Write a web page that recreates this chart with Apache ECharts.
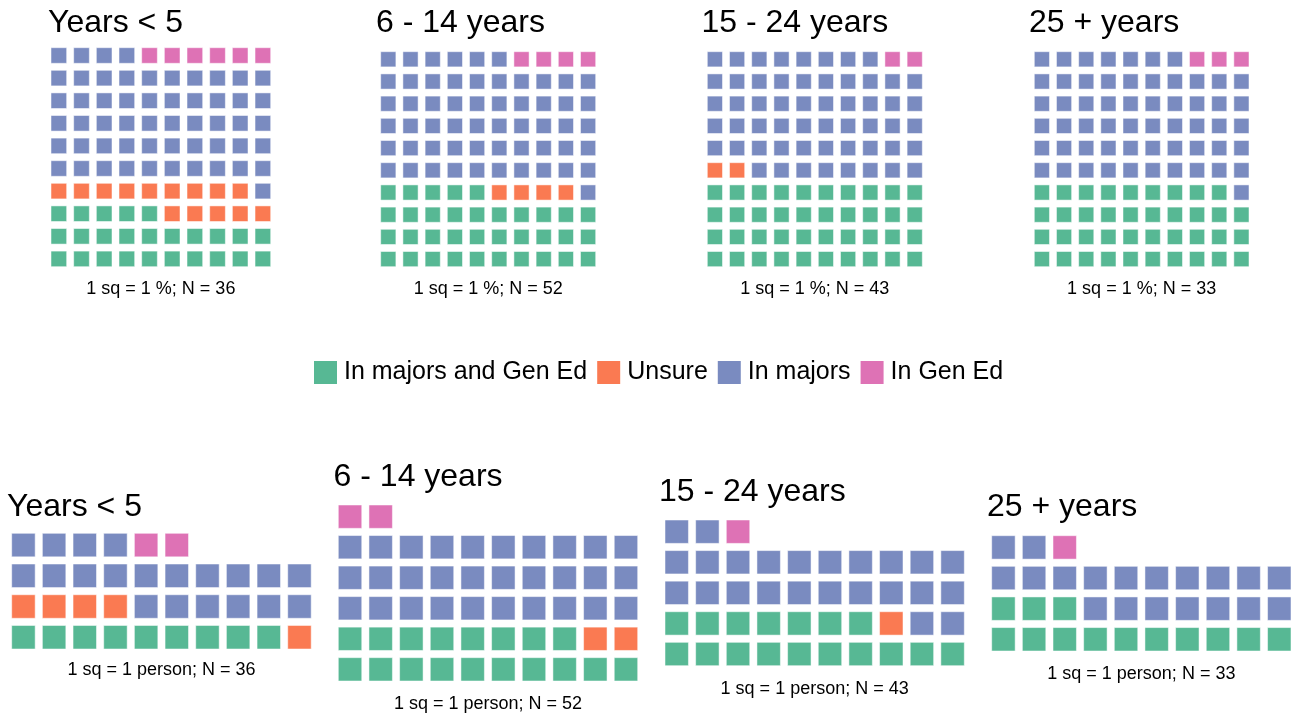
<!DOCTYPE html>
<html>
<head>
<meta charset="UTF-8">
<title>Waffle charts</title>
<script src="https://cdn.jsdelivr.net/npm/echarts@6/dist/echarts.min.js"></script>
<style>
  html, body { margin: 0; padding: 0; background: #fff; }
  #main { width: 1298px; height: 719px; }
</style>
</head>
<body>
<div id="main"></div>
<script>
// categories and colours (legend order)
var categories = ['In majors and Gen Ed', 'Unsure', 'In majors', 'In Gen Ed'];
var catColors = ['#57b894', '#fa7a52', '#7a8bc0', '#de72b5'];

var groups = ['Years < 5', '6 - 14 years', '15 - 24 years', '25 + years'];
var groupN = [36, 52, 43, 33];

// 1 sq = 1 % (squares per category)
var pctYears5 = [25, 14, 55, 6];
var pct6to14 = [35, 4, 57, 4];
var pct15to24 = [40, 2, 56, 2];
var pct25plus = [39, 0, 58, 3];

// 1 sq = 1 person
var nYears5 = [9, 5, 20, 2];
var n6to14 = [18, 2, 30, 2];
var n15to24 = [17, 1, 24, 1];
var n25plus = [13, 0, 19, 1];

var COLS = 10;

// panel boxes: [left, top, width, height], title pos [left, top], caption top
var panels = [
  { counts: pctYears5, unit: '1 sq = 1 %', g: 0, box: [47.5, 44.2, 226.7, 226], tl: [48, 7], cap: 280.5, gap: 7 },
  { counts: pct6to14, unit: '1 sq = 1 %', g: 1, box: [377.2, 48.2, 222, 222], tl: [376, 7], cap: 280.5, gap: 7 },
  { counts: pct15to24, unit: '1 sq = 1 %', g: 2, box: [703.8, 48.2, 222, 222], tl: [701.5, 7], cap: 280.5, gap: 7 },
  { counts: pct25plus, unit: '1 sq = 1 %', g: 3, box: [1030.8, 48.2, 221.7, 222], tl: [1029, 7], cap: 280.5, gap: 7 },
  { counts: nYears5, unit: '1 sq = 1 person', g: 0, box: [8.1, 529.7, 306.7, 122.9], tl: [7, 491.5], cap: 661.5, gap: 7.2 },
  { counts: n6to14, unit: '1 sq = 1 person', g: 1, box: [334.7, 501.4, 306.6, 183.2], tl: [333.6, 461], cap: 695.5, gap: 7.2 },
  { counts: n15to24, unit: '1 sq = 1 person', g: 2, box: [661.4, 516.4, 306.5, 152.9], tl: [659, 476.6], cap: 680.5, gap: 7.2 },
  { counts: n25plus, unit: '1 sq = 1 person', g: 3, box: [988.1, 532.1, 306.5, 122.5], tl: [987, 491.5], cap: 665, gap: 7.2 }
];

var FONT = 'Liberation Sans, Arial, sans-serif';

function makeRender(gap) {
  return function (params, api) {
    var p = api.coord([api.value(0), api.value(1) + 1]);
    var s = api.size([1, 1]);
    return {
      type: 'rect',
      shape: { x: p[0] + gap / 2, y: p[1] + gap / 2, width: s[0] - gap, height: s[1] - gap },
      style: { fill: api.visual('color'), stroke: 'rgba(255,255,255,0.5)', lineWidth: 1 }
    };
  };
}

var grids = [], xAxes = [], yAxes = [], series = [], titles = [];

panels.forEach(function (pn, i) {
  var total = pn.counts.reduce(function (a, b) { return a + b; }, 0);
  var rows = Math.ceil(total / COLS);
  grids.push({ left: pn.box[0], top: pn.box[1], width: pn.box[2], height: pn.box[3] });
  xAxes.push({ gridIndex: i, type: 'value', min: 0, max: COLS, show: false });
  yAxes.push({ gridIndex: i, type: 'value', min: 0, max: rows, show: false });

  // fill squares row by row from the bottom-left
  var k = 0;
  pn.counts.forEach(function (c, ci) {
    var cells = [];
    for (var j = 0; j < c; j++, k++) {
      cells.push([k % COLS, Math.floor(k / COLS)]);
    }
    series.push({
      type: 'custom',
      name: categories[ci],
      xAxisIndex: i,
      yAxisIndex: i,
      itemStyle: { color: catColors[ci] },
      renderItem: makeRender(pn.gap),
      data: cells,
      silent: true
    });
  });

  titles.push({
    text: groups[pn.g], left: pn.tl[0], top: pn.tl[1], padding: 0,
    textStyle: { fontFamily: FONT, fontSize: 32, fontWeight: 'normal', color: '#000' }
  });
  titles.push({
    text: pn.unit + '; N = ' + groupN[pn.g],
    left: pn.box[0] + pn.box[2] / 2, textAlign: 'center', top: pn.cap, padding: 0,
    textStyle: { fontFamily: FONT, fontSize: 18, fontWeight: 'normal', color: '#000' }
  });
});

var myChart = echarts.init(document.getElementById('main'));
myChart.setOption({
  backgroundColor: '#fff',
  animation: false,
  title: titles,
  legend: {
    data: categories,
    left: 309, top: 355,
    icon: 'rect',
    itemWidth: 23, itemHeight: 23, itemGap: 10,
    selectedMode: false,
    textStyle: { fontFamily: FONT, fontSize: 25, color: '#000', padding: [0, 0, 0, 2] }
  },
  grid: grids,
  xAxis: xAxes,
  yAxis: yAxes,
  series: series
});
</script>
</body>
</html>
